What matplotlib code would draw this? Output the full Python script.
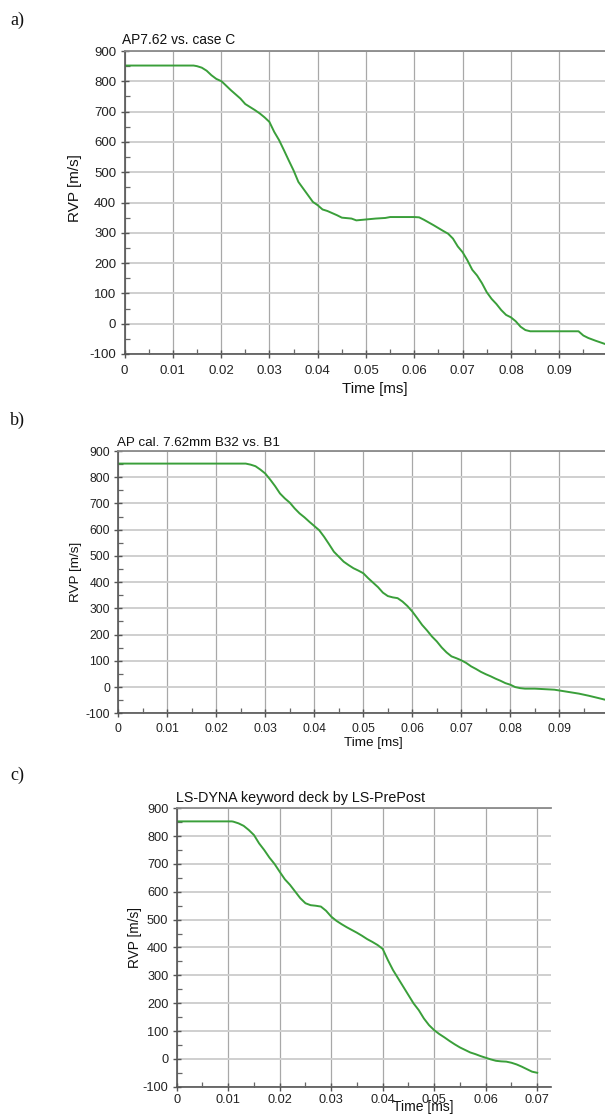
import matplotlib
matplotlib.use("Agg")
import matplotlib.pyplot as plt
from matplotlib.ticker import MultipleLocator

plt.rcParams['font.family'] = ['Liberation Sans', 'DejaVu Sans']

# ---------------- data ----------------
# Panel a: AP7.62 vs. case C
t_a = [0.0, 0.0143, 0.015, 0.016, 0.017, 0.018, 0.019, 0.0201, 0.022, 0.024, 0.025,
       0.027, 0.028, 0.029, 0.030, 0.031, 0.032, 0.033, 0.034, 0.035, 0.036, 0.037,
       0.038, 0.039, 0.040, 0.041, 0.042, 0.044, 0.045, 0.047, 0.048, 0.050, 0.052,
       0.054, 0.055, 0.060, 0.061, 0.062, 0.064, 0.066, 0.067, 0.068, 0.069, 0.070,
       0.071, 0.072, 0.073, 0.074, 0.075, 0.076, 0.077, 0.078, 0.079, 0.080, 0.081,
       0.082, 0.083, 0.084, 0.090, 0.094, 0.095, 0.096, 0.0975, 0.0995]
v_a = [852, 852, 850, 845, 835, 820, 808, 800, 771, 743, 725,
       705, 694, 681, 666, 633, 606, 573, 539, 506, 468, 446,
       424, 402, 391, 377, 372, 358, 350, 347, 341, 344, 347,
       349, 352, 352, 351, 343, 325, 306, 297, 281, 255, 236,
       209, 178, 159, 134, 104, 82, 65, 45, 29, 21, 8,
       -10, -21, -25, -25, -25, -39, -47, -56, -67]

# Panel b: AP cal. 7.62mm B32 vs. B1
t_b = [0.0, 0.026, 0.027, 0.028, 0.029, 0.030, 0.031, 0.032, 0.033, 0.034, 0.035,
       0.036, 0.037, 0.038, 0.039, 0.040, 0.041, 0.042, 0.043, 0.044, 0.045, 0.046,
       0.047, 0.048, 0.049, 0.050, 0.051, 0.052, 0.053, 0.054, 0.055, 0.056, 0.057,
       0.058, 0.059, 0.060, 0.061, 0.062, 0.063, 0.064, 0.065, 0.066, 0.067, 0.068,
       0.069, 0.070, 0.071, 0.072, 0.073, 0.074, 0.075, 0.076, 0.077, 0.078, 0.079,
       0.080, 0.081, 0.082, 0.083, 0.085, 0.087, 0.089, 0.090, 0.092, 0.094, 0.096,
       0.098, 0.0993]
v_b = [852, 852, 848, 842, 829, 814, 791, 766, 738, 719, 703,
       681, 662, 647, 630, 614, 598, 573, 545, 516, 497, 478,
       465, 453, 444, 434, 415, 398, 381, 360, 347, 342, 339,
       326, 309, 288, 263, 237, 216, 193, 174, 151, 132, 117,
       110, 102, 92, 79, 69, 58, 49, 41, 32, 24, 15,
       9, 0, -4, -6, -6, -8, -10, -13, -19, -25, -33,
       -42, -48]

# Panel c: LS-DYNA keyword deck by LS-PrePost
t_c = [0.0, 0.0107, 0.011, 0.012, 0.013, 0.014, 0.015, 0.016, 0.017, 0.018, 0.019,
       0.020, 0.021, 0.022, 0.023, 0.024, 0.025, 0.026, 0.027, 0.028, 0.029, 0.030,
       0.031, 0.032, 0.033, 0.034, 0.035, 0.036, 0.037, 0.038, 0.039, 0.040, 0.041,
       0.042, 0.043, 0.044, 0.045, 0.046, 0.047, 0.048, 0.049, 0.050, 0.051, 0.052,
       0.053, 0.054, 0.055, 0.056, 0.057, 0.058, 0.059, 0.060, 0.061, 0.062, 0.063,
       0.064, 0.065, 0.066, 0.067, 0.068, 0.069, 0.070]
v_c = [853, 853, 852, 846, 837, 822, 804, 774, 750, 723, 700,
       672, 645, 625, 601, 577, 559, 552, 550, 547, 532, 511,
       496, 484, 473, 463, 453, 442, 430, 420, 409, 395, 355,
       319, 289, 259, 229, 199, 175, 145, 121, 103, 89, 77,
       64, 52, 41, 32, 23, 17, 10, 4, -2, -7, -9,
       -10, -14, -20, -28, -37, -46, -50]

ticks_a = [0, 0.01, 0.02, 0.03, 0.04, 0.05, 0.06, 0.07, 0.08, 0.09]
labels_a = ['0', '0.01', '0.02', '0.03', '0.04', '0.05', '0.06', '0.07', '0.08', '0.09']
ticks_c = [0, 0.01, 0.02, 0.03, 0.04, 0.05, 0.06, 0.07]
labels_c = ['0', '0.01', '0.02', '0.03', '0.04', '0.05', '0.06', '0.07']
yticks = [-100, 0, 100, 200, 300, 400, 500, 600, 700, 800, 900]
ylabels = ['-100', '0', '100', '200', '300', '400', '500', '600', '700', '800', '900']

titles = ['AP7.62 vs. case C', 'AP cal. 7.62mm B32 vs. B1', 'LS-DYNA keyword deck by LS-PrePost']
letters = ['a)', 'b)', 'c)']

# ---------------- figure ----------------
W, H = 605, 1115
fig = plt.figure(figsize=(W / 100, H / 100), dpi=100)

GREEN = '#3a9f3a'

def px_axes(left, top, right, bottom):
    return fig.add_axes([left / W, 1 - bottom / H, (right - left) / W, (bottom - top) / H])

def style(ax, xt, xl, xmax, fs, xpad):
    ax.set_xlim(0, xmax)
    ax.set_ylim(-100, 900)
    ax.set_xticks(xt)
    ax.set_xticklabels(xl)
    ax.set_yticks(yticks)
    ax.set_yticklabels(ylabels)
    ax.xaxis.set_minor_locator(MultipleLocator(0.005))
    ax.yaxis.set_minor_locator(MultipleLocator(50))
    ax.xaxis.grid(True, which='major', color='#a8a8a8', lw=0.9)
    ax.yaxis.grid(True, which='major', color='#cfcfcf', lw=1.4)
    ax.set_axisbelow(True)
    for s in ['left', 'bottom']:
        ax.spines[s].set_color('#555555')
        ax.spines[s].set_linewidth(1.2)
    ax.spines['top'].set_color('#8a8a8a')
    ax.spines['top'].set_linewidth(1.3)
    ax.spines['right'].set_visible(False)
    ax.tick_params(which='major', direction='inout', length=6, width=1.0,
                   color='#555555', labelsize=fs, labelcolor='#222222', pad=3)
    ax.tick_params(which='minor', direction='in', length=3.5, width=0.9, color='#666666')
    ax.tick_params(axis='x', which='major', pad=xpad)

def px_text(x, y, s, **kw):
    fig.text(x / W, 1 - y / H, s, **kw)

# Panel a
ax1 = px_axes(124.5, 51, W, 354)
ax1.plot(t_a, v_a, color=GREEN, lw=1.4)
style(ax1, ticks_a, labels_a, (W - 124.5) / 4830, 9.5, 5)

# Panel b
ax2 = px_axes(118.3, 451, W, 713.3)
ax2.plot(t_b, v_b, color=GREEN, lw=1.4)
style(ax2, ticks_a, labels_a, (W - 118.3) / 4900, 8.7, 4)

# Panel c
ax3 = px_axes(176.7, 808.3, 550.7, 1086.7)
ax3.plot(t_c, v_c, color=GREEN, lw=1.4)
style(ax3, ticks_c, labels_c, (550.7 - 176.7) / 5150, 9.2, 2.5)

# Titles
px_text(122, 40, titles[0], fontsize=9.9, ha='left', va='center', color='#111111')
px_text(117, 443, titles[1], fontsize=9.6, ha='left', va='center', color='#111111')
px_text(176, 798, titles[2], fontsize=10.3, ha='left', va='center', color='#111111')

# Axis labels
px_text(75, 188, 'RVP [m/s]', fontsize=11, rotation=90, ha='center', va='center', color='#111111')
px_text(76, 572, 'RVP [m/s]', fontsize=9.7, rotation=90, ha='center', va='center', color='#111111')
px_text(135, 937, 'RVP [m/s]', fontsize=9.9, rotation=90, ha='center', va='center', color='#111111')
px_text(375, 389, 'Time [ms]', fontsize=10.8, ha='center', va='center', color='#111111')
px_text(373, 743, 'Time [ms]', fontsize=9.7, ha='center', va='center', color='#111111')
px_text(423, 1107.5, 'Time [ms]', fontsize=10, ha='center', va='center', color='#111111')

# Panel letters
for (y, s) in zip([20, 420, 775], letters):
    px_text(10, y, s, fontsize=13, ha='left', va='center', family='Liberation Serif', color='#111111')

fig.savefig('out.png', dpi=100)
